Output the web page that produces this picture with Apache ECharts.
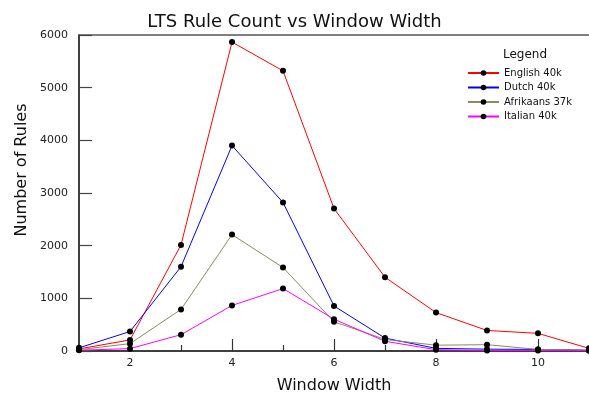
<!DOCTYPE html>
<html>
<head>
<meta charset="utf-8">
<script src="https://cdn.jsdelivr.net/npm/echarts@6/dist/echarts.min.js"></script>
<style>
html,body{margin:0;padding:0;background:#fff;}
#c{width:589px;height:394px;}
</style>
</head>
<body>
<div id="c"></div>
<script>
var windowWidth = [1, 2, 3, 4, 5, 6, 7, 8, 9, 10, 11];
var english = [40, 210, 2015, 5865, 5320, 2705, 1400, 730, 390, 335, 50];
var dutch = [60, 370, 1600, 3900, 2820, 855, 245, 50, 35, 30, 15];
var afrikaans = [25, 140, 790, 2210, 1585, 555, 220, 110, 120, 30, 15];
var italian = [15, 45, 310, 865, 1185, 605, 185, 25, 10, 10, 5];
var seriesNames = ['English 40k', 'Dutch 40k', 'Afrikaans 37k', 'Italian 40k'];
var seriesColors = ['#ff0000', '#0000ff', '#8c8a60', '#ff00ff'];
var xLabelTicks = [2, 4, 6, 8, 10];
var xMinorTicks = [3, 5, 7, 9];

var font = 'DejaVu Sans';
var chart = echarts.init(document.getElementById('c'), null, {renderer: 'canvas'});
var allData = [english, dutch, afrikaans, italian];
function pairs(arr) { return windowWidth.map(function (x, i) { return [x, arr[i]]; }); }

var series = allData.map(function (d, i) {
  return {
    name: seriesNames[i], type: 'line', data: pairs(d),
    xAxisIndex: 0, yAxisIndex: 0,
    symbol: 'circle', symbolSize: 6,
    itemStyle: {color: '#000'},
    lineStyle: {color: seriesColors[i], width: 1},
    animation: false, z: 3
  };
});

chart.setOption({
  backgroundColor: '#fff',
  animation: false,
  title: [
    {text: 'LTS Rule Count vs Window Width', left: 'center', top: 8,
     textStyle: {fontFamily: font, fontSize: 18, fontWeight: 'normal', color: '#111'}},
    {text: 'Legend', left: 498, top: 44,
     textStyle: {fontFamily: font, fontSize: 12, fontWeight: 'normal', color: '#111'}}
  ],
  legend: {
    orient: 'vertical', left: 462, top: 63,
    itemWidth: 31, itemHeight: 7, itemGap: 4.5,
    data: seriesNames,
    textStyle: {fontFamily: font, fontSize: 10, color: '#111'}
  },
  graphic: [
    {type: 'text', x: 22, y: 170, rotation: Math.PI / 2,
     style: {text: 'Number of Rules', fontFamily: font, fontSize: 16, fill: '#111',
             align: 'center', verticalAlign: 'middle'}}
  ],
  grid: {left: 79, right: 0, top: 35, bottom: 43, containLabel: false, outerBoundsMode: 'none'},
  xAxis: [
    {type: 'value', min: 1, max: 11, interval: 1,
     name: 'Window Width', nameLocation: 'middle', nameGap: 27,
     nameTextStyle: {fontFamily: font, fontSize: 16, color: '#111'},
     axisLine: {show: true, lineStyle: {color: '#000', width: 1.5}},
     axisTick: {show: true, inside: true, length: 12, customValues: xLabelTicks, lineStyle: {color: '#333', width: 1.2}},
     axisLabel: {customValues: xLabelTicks, fontFamily: font, fontSize: 11, color: '#222', margin: 7},
     splitLine: {show: false}},
    {type: 'value', min: 1, max: 11, interval: 1, position: 'bottom',
     axisLine: {show: false},
     axisTick: {show: true, inside: true, length: 6, customValues: xMinorTicks, lineStyle: {color: '#333', width: 1.2}},
     axisLabel: {show: false}, splitLine: {show: false}},
    {type: 'value', min: 1, max: 11, position: 'top',
     axisLine: {show: true, lineStyle: {color: '#555', width: 1.5}},
     axisTick: {show: false}, axisLabel: {show: false}, splitLine: {show: false}}
  ],
  yAxis: [
    {type: 'value', min: 0, max: 6000, interval: 1000,
     axisLine: {show: true, lineStyle: {color: '#000', width: 1.5}},
     axisTick: {show: true, inside: true, length: 13, lineStyle: {color: '#444', width: 1.2}},
     axisLabel: {fontFamily: font, fontSize: 11, color: '#222', margin: 11,
                 formatter: function (v) { return String(v); }},
     splitLine: {show: false}}
  ],
  series: series
});
</script>
</body>
</html>
